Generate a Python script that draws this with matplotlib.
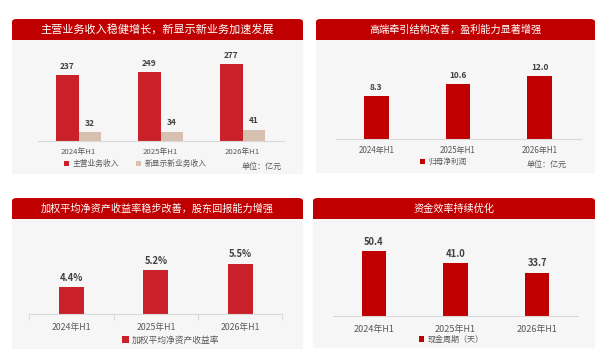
import numpy as np
import matplotlib
matplotlib.use("Agg")
from matplotlib import pyplot as plt
from matplotlib.patches import FancyBboxPatch, Rectangle

plt.rcParams['font.family'] = ['Noto Sans CJK SC', 'DejaVu Sans']

# data
years = ['2024年H1', '2025年H1', '2026年H1']
main_rev = [237, 249, 277]
new_rev = [32, 34, 41]
net_profit = [8.3, 10.6, 12.0]
roe = [4.4, 5.2, 5.5]
cash_cycle = [50.4, 41.0, 33.7]

titles = ['主营业务收入稳健增长，新显示新业务加速发展',
          '高端牵引结构改善，盈利能力显著增强',
          '加权平均净资产收益率稳步改善，股东回报能力增强',
          '资金效率持续优化']

W, H = 600, 362
RED = '#c00000'
RED2 = '#c9202a'
BEIGE = '#d8c0b1'
BODY = '#f6f6f6'
GRID = '#d9d9d9'
TXT = '#595959'
VAL = '#404040'

fig = plt.figure(figsize=(W/100, H/100), dpi=100)
fig.patch.set_facecolor('white')


def rect(x0, y0, x1, y1):
    # pixel box (y from top) -> figure fraction
    return [x0/W, 1-y1/H, (x1-x0)/W, (y1-y0)/H]


def panel(x0, x1, y0, ym, y1, title, fs):
    # body
    fig.patches.append(Rectangle((x0/W, 1-y1/H), (x1-x0)/W, (y1-ym)/H,
                                 transform=fig.transFigure, facecolor=BODY,
                                 edgecolor='none', zorder=-2))
    # header with rounded top corners
    fig.patches.append(FancyBboxPatch((x0/W, 1-ym/H), (x1-x0)/W, (ym-y0)/H,
                                      boxstyle='round,pad=0,rounding_size=0.008',
                                      transform=fig.transFigure, facecolor=RED,
                                      edgecolor='none', zorder=-1))
    fig.patches.append(Rectangle((x0/W, 1-ym/H), (x1-x0)/W, (ym-y0)/H/2,
                                 transform=fig.transFigure, facecolor=RED,
                                 edgecolor='none', zorder=-1))
    fig.text((x0+x1)/2/W, 1-(y0+ym)/2/H, title, color='white', fontsize=fs,
             ha='center', va='center', zorder=2)


def chart(box, ylim, tick_fs, pad=5):
    ax = fig.add_axes(rect(*box))
    ax.set_zorder(3)
    ax.set_facecolor('none')
    ax.set_xlim(-0.5, 2.5)
    ax.set_ylim(*ylim)
    for s in ['top', 'left', 'right']:
        ax.spines[s].set_visible(False)
    ax.spines['bottom'].set_color(GRID)
    ax.spines['bottom'].set_linewidth(0.8)
    ax.set_yticks([])
    ax.set_xticks(range(3))
    ax.set_xticklabels(years)
    ax.tick_params(axis='x', length=0, pad=pad, labelsize=tick_fs, labelcolor=TXT)
    return ax


def labels(ax, bars, vals, fmt, fs=6):
    for b, v in zip(bars, vals):
        ax.annotate(fmt.format(v), (b.get_x()+b.get_width()/2, b.get_y()+b.get_height()),
                    xytext=(0, 3), textcoords='offset points', ha='center', va='bottom',
                    fontsize=fs, fontweight='bold', color=VAL)


def legend(ax, handles, names, cx, cy, fs, ncol=1):
    ax.legend(handles, names, loc='center', bbox_to_anchor=(cx/W, 1-cy/H),
              bbox_transform=fig.transFigure, ncol=ncol, frameon=False,
              fontsize=fs, labelcolor=TXT, handlelength=0.7, handleheight=0.7,
              handletextpad=0.4, columnspacing=2.2, borderaxespad=0)


x = np.arange(3)

# panel 1
panel(12, 303, 19, 40, 174, titles[0], 8)
ax1 = chart((37.5, 55, 283.5, 141), (0, 86/0.278), 5.6)
b1 = ax1.bar(x-0.14, main_rev, 0.28, color=RED2)
b2 = ax1.bar(x+0.14, new_rev, 0.28, color=BEIGE)
labels(ax1, b1, main_rev, '{:d}')
labels(ax1, b2, new_rev, '{:d}')
legend(ax1, [b1, b2], ['主营业务收入', '新显示新业务收入'], 135, 164, 5.6, ncol=2)
fig.text(282/W, 1-166/H, '单位：亿元', ha='right', va='center', fontsize=5.8, color=TXT)

# panel 2
panel(316, 595, 19, 40, 173, titles[1], 7.3)
ax2 = chart((335.5, 55, 580.5, 139), (0, 84/5.22), 5.8)
b3 = ax2.bar(x, net_profit, 0.3, color=RED)
labels(ax2, b3, net_profit, '{:.1f}')
legend(ax2, [b3], ['归母净利润'], 443, 162, 5.5)
fig.text(567/W, 1-164/H, '单位：亿元', ha='right', va='center', fontsize=5.8, color=TXT)

# panel 3
panel(12, 303, 198, 219, 349, titles[2], 7.3)
ax3 = chart((29.4, 235, 282.3, 314), (3.13, 3.13+79/21.25), 6.3, pad=6.5)
b4 = ax3.bar(x, roe, 0.3, color=RED2)
labels(ax3, b4, roe, '{:.1f}%', fs=6.8)
ax3.set_xticks([-0.5, 0.5, 1.5, 2.5], minor=True)
ax3.tick_params(axis='x', which='minor', length=4, color=GRID, width=0.8)
legend(ax3, [b4], ['加权平均净资产收益率'], 171, 340, 6.3)

# panel 4
panel(313, 595, 198, 219, 348, titles[3], 7.3)
ax4 = chart((333, 235, 578, 316), (0, 81/1.29), 6.5, pad=6.5)
b5 = ax4.bar(x, cash_cycle, 0.3, color=RED)
labels(ax4, b5, cash_cycle, '{:.1f}', fs=6.8)
legend(ax4, [b5], ['现金周期（天）'], 451, 339, 5.8)

fig.savefig('out.png', dpi=100, facecolor='white')
